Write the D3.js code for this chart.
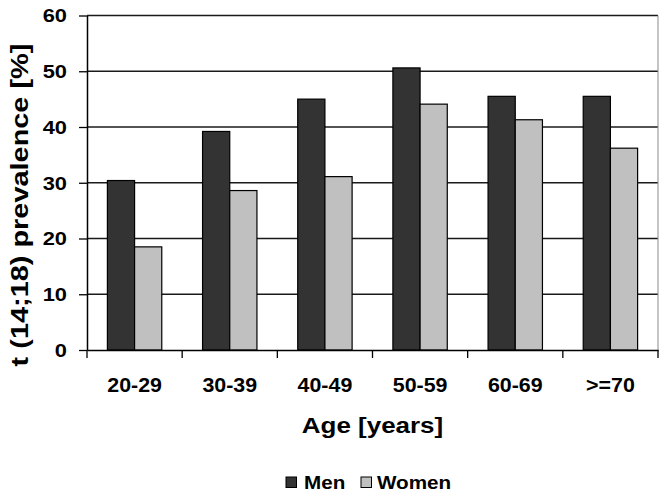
<!DOCTYPE html>
<html>
<head>
<meta charset="utf-8">
<script src="https://cdn.jsdelivr.net/npm/d3@7/dist/d3.min.js"></script>
<style>
  html, body { margin: 0; padding: 0; background: #fff; }
  svg { display: block; font-family: "Liberation Sans", Arial, sans-serif; font-weight: bold; }
</style>
</head>
<body>
<svg id="chart" width="667" height="496"></svg>
<script>
const categories = ["20-29", "30-39", "40-49", "50-59", "60-69", ">=70"];
const seriesNames = ["Men", "Women"];
const menValues = [30.4, 39.2, 45.0, 50.6, 45.5, 45.5];
const womenValues = [18.5, 28.6, 31.1, 44.1, 41.3, 36.2];
const yTicks = [0, 10, 20, 30, 40, 50, 60];
const xTitle = "Age [years]";
const yTitle = "t (14;18) prevalence [%]";

const colors = { Men: "#333333", Women: "#c0c0c0" };
const SX = 1.18; // horizontal stretch of text in the reference

const svg = d3.select("#chart");
const pLeft = 87, pRight = 658, pTop = 15.5, pBottom = 350;

const x = d3.scaleBand().domain(categories).range([pLeft, pRight]).padding(0);
const xs = d3.scaleBand().domain(seriesNames).range([0, x.bandwidth()]).paddingInner(0).paddingOuter(0.75);
const y = d3.scaleLinear().domain([0, 60]).range([pBottom, pTop]);

const data = categories.map((c, i) => ({ cat: c, Men: menValues[i], Women: womenValues[i] }));

// gridlines
svg.append("g").selectAll("line").data(yTicks.filter(d => d > 0)).join("line")
  .attr("x1", pLeft).attr("x2", pRight)
  .attr("y1", d => y(d)).attr("y2", d => y(d))
  .attr("stroke", "#1a1a1a").attr("stroke-width", 1.3);

// right border
svg.append("line").attr("x1", pRight).attr("x2", pRight).attr("y1", pTop).attr("y2", pBottom)
  .attr("stroke", "#8a8a8a").attr("stroke-width", 1);

// bars
const groups = svg.append("g").selectAll("g").data(data).join("g")
  .attr("transform", d => `translate(${x(d.cat)},0)`);
groups.selectAll("rect").data(d => seriesNames.map(s => ({ s, v: d[s] }))).join("rect")
  .attr("x", d => xs(d.s)).attr("width", xs.bandwidth())
  .attr("y", d => y(d.v)).attr("height", d => y(0) - y(d.v))
  .attr("fill", d => colors[d.s]).attr("stroke", "#000").attr("stroke-width", 1.2);

// y axis
const yAxis = svg.append("g").attr("transform", `translate(${pLeft},0)`)
  .call(d3.axisLeft(y).tickValues(yTicks).tickSize(8).tickSizeOuter(0).tickPadding(0).tickFormat(d3.format("d")));
yAxis.select(".domain").attr("stroke", "#000").attr("stroke-width", 1.5);
yAxis.selectAll(".tick line").attr("stroke", "#000").attr("stroke-width", 1.3);
yAxis.selectAll(".tick text")
  .attr("x", null).attr("dy", null)
  .attr("font-size", 18.5).attr("font-weight", "bold").attr("fill", "#000")
  .attr("text-anchor", "end").attr("dominant-baseline", "central")
  .attr("transform", `translate(-20,0) scale(${SX},1)`);

// x axis
const xAxis = svg.append("g").attr("transform", `translate(0,${pBottom})`)
  .call(d3.axisBottom(x).tickSize(0).tickPadding(0));
xAxis.select(".domain").attr("stroke", "#000").attr("stroke-width", 1.5);
xAxis.selectAll(".tick text")
  .attr("y", null).attr("dy", null)
  .attr("font-size", 20).attr("font-weight", "bold").attr("fill", "#000")
  .attr("transform", `translate(0,41.5) scale(1.07,1)`);
// boundary ticks between categories
const boundaries = categories.map(c => x(c)).concat([pRight]);
svg.append("g").selectAll("line").data(boundaries).join("line")
  .attr("x1", d => d).attr("x2", d => d).attr("y1", pBottom).attr("y2", pBottom + 8)
  .attr("stroke", "#000").attr("stroke-width", 1.3);

// axis titles
svg.append("text").text(xTitle)
  .attr("text-anchor", "middle").attr("font-size", 22)
  .attr("transform", `translate(${(pLeft + pRight) / 2},433) scale(${SX},1)`);
svg.append("text").text(yTitle)
  .attr("text-anchor", "middle").attr("font-size", 24.5)
  .attr("transform", `translate(28,205) rotate(-90) scale(${SX},1)`);

// legend
const legendItems = [
  { s: "Men", sx: 286, tx: 304 },
  { s: "Women", sx: 361, tx: 377 }
];
const lg = svg.append("g");
lg.selectAll("rect").data(legendItems).join("rect")
  .attr("x", d => d.sx).attr("y", 477).attr("width", 10.5).attr("height", 10.5)
  .attr("fill", d => colors[d.s]).attr("stroke", "#000").attr("stroke-width", 1);
lg.selectAll("text").data(legendItems).join("text")
  .text(d => d.s).attr("font-size", 17.5)
  .attr("transform", d => `translate(${d.tx},489) scale(${SX},1)`);
</script>
</body>
</html>
